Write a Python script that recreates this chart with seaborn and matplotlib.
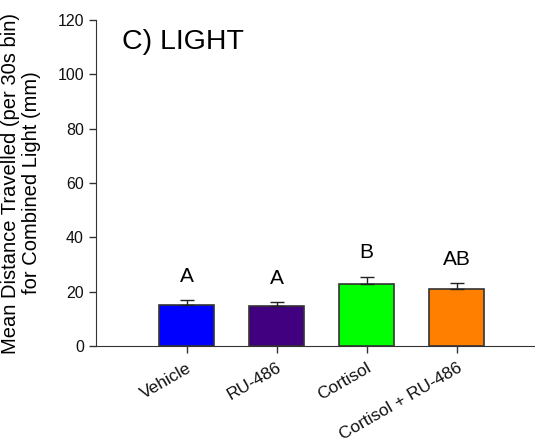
import pandas as pd
import numpy as np
import matplotlib
matplotlib.use('Agg')
import matplotlib.pyplot as plt
import seaborn as sns

groups = ['Vehicle', 'RU-486', 'Cortisol', 'Cortisol + RU-486']
means = [15.1, 14.6, 22.9, 21.0]
sems = [1.9, 1.5, 2.7, 2.3]
letters = ['A', 'A', 'B', 'AB']
colors = ['#0000FF', '#400080', '#00FF00', '#FF8000']

sns.set_style('white')
plt.rcParams['font.family'] = ['Liberation Sans', 'DejaVu Sans']
plt.rcParams['text.color'] = 'black'
plt.rcParams['axes.labelcolor'] = 'black'

df = pd.DataFrame({'group': groups, 'mean': means})

fig = plt.figure(figsize=(5.35, 4.41), dpi=100)
ax = fig.add_axes([0.179, 0.215, 0.821, 0.74])

sns.barplot(data=df, x='group', y='mean', hue='group', palette=colors,
            legend=False, width=0.61, edgecolor='#333333', linewidth=1.2,
            saturation=1, errorbar=None, ax=ax)
x = np.arange(len(groups))
ax.errorbar(x, means, yerr=[np.zeros(len(sems)), sems], fmt='none',
            ecolor='#222222', elinewidth=1, capsize=5, capthick=1)

for xi, m, s, lab in zip(x, means, sems, letters):
    ax.text(xi, m + s + 8.7, lab, ha='center', va='center', fontsize=15)

ax.set_xlim(-1.01, 3.87)
ax.set_ylim(0, 120)
ax.set_yticks(range(0, 121, 20))
ax.set_xlabel('')
ax.set_ylabel('Mean Distance Travelled (per 30s bin)\nfor Combined Light (mm)',
              fontsize=14.5, labelpad=12, linespacing=1.1)
ax.set_xticks(x)
ax.set_xticklabels(groups, rotation=30, ha='right', rotation_mode='anchor', fontsize=12.5)
ax.tick_params(axis='y', labelsize=11.5, length=5, width=1, direction='out', left=True, colors='#333333')
ax.tick_params(axis='x', length=5, width=1, direction='out', bottom=True, pad=5, colors='#333333')
for lab in ax.get_yticklabels() + ax.get_xticklabels():
    lab.set_color('#111111')
sns.despine(ax=ax, top=True, right=True)
ax.spines['left'].set_color('#333333')
ax.spines['bottom'].set_color('#333333')

ax.text(-0.72, 112, 'C) LIGHT', fontsize=20.5, ha='left', va='center')

fig.savefig('out.png', dpi=100)
